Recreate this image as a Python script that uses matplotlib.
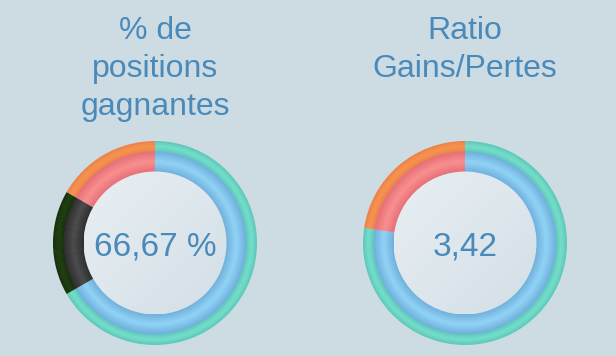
import numpy as np
import matplotlib.pyplot as plt
from matplotlib.patches import Circle
from matplotlib.colors import to_rgb

plt.rcParams['font.family'] = ['Liberation Sans', 'DejaVu Sans']

# gauge data
titles = ["% de\npositions\ngagnantes", "Ratio\nGains/Pertes"]
labels = ["66,67 %", "3,42"]
win_pct = [4, 1, 1]          # gagnantes, neutres, perdantes
gain_loss = [3.42, 1.0]      # gains, pertes
gauges = [win_pct, gain_loss]

bg = "#cddce3"
text_col = "#4a8abb"

# (edge, middle) colours per segment
inner_cols = [("#6eaedb", "#92d3f7"), ("#2c2c2c", "#4c4c4c"), ("#e56f78", "#fa8e8e")]
outer_cols = [("#5cc8b6", "#76ddcc"), ("#172e0a", "#213f11"), ("#ec8048", "#f7944f")]
inner_cols_r = [inner_cols[0], inner_cols[2]]
outer_cols_r = [outer_cols[0], outer_cols[2]]


def mix(a, b, t):
    a, b = np.array(to_rgb(a)), np.array(to_rgb(b))
    return tuple(a + (b - a) * t)


def ring(ax, values, center, r_out, r_in, cols, n=10):
    step = (r_out - r_in) / n
    for i in range(n):
        r = r_out - i * step
        t = (i + 0.5) / n
        k = 1 - abs(2 * t - 1)      # light in the middle, darker at edges
        colors = [mix(e, m, k) for e, m in cols]
        ax.pie(values, center=center, radius=r, colors=colors, startangle=90,
               counterclock=False, wedgeprops=dict(width=step + 0.6, linewidth=0))


fig = plt.figure(figsize=(6.16, 3.56), dpi=100, facecolor=bg)
ax = fig.add_axes([0, 0, 1, 1])
ax.set_facecolor(bg)

centers = [(155, 113), (465, 113)]
for g, (vals, c) in enumerate(zip(gauges, centers)):
    oc = outer_cols if g == 0 else outer_cols_r
    ic = inner_cols if g == 0 else inner_cols_r
    ring(ax, vals, c, 102, 91, oc, n=6)
    ring(ax, vals, c, 91.5, 71, ic, n=10)

    # centre disc with soft diagonal gradient
    r = 71.5
    yy, xx = np.mgrid[0:1:100j, 0:1:100j]
    grad = (xx + yy) / 2
    img = np.zeros((100, 100, 3))
    c0, c1 = np.array(to_rgb("#e9eff3")), np.array(to_rgb("#d2dfe6"))
    for ch in range(3):
        img[..., ch] = c0[ch] + (c1[ch] - c0[ch]) * grad
    im = ax.imshow(img, extent=[c[0] - r, c[0] + r, c[1] - r, c[1] + r],
                   origin='upper', zorder=3, interpolation='bilinear')
    im.set_clip_path(Circle(c, r, transform=ax.transData))

    ax.text(c[0], 356 - 256, labels[g], ha='center', va='baseline', fontsize=24,
            color=text_col, zorder=4)

    ax.text(c[0], 356 - 16, titles[g], ha='center', va='top', fontsize=23,
            color=text_col, linespacing=1.34)

ax.set_xlim(0, 616)
ax.set_ylim(0, 356)
ax.set_aspect('equal')
ax.axis('off')

fig.savefig("out.png", dpi=100, facecolor=bg)
